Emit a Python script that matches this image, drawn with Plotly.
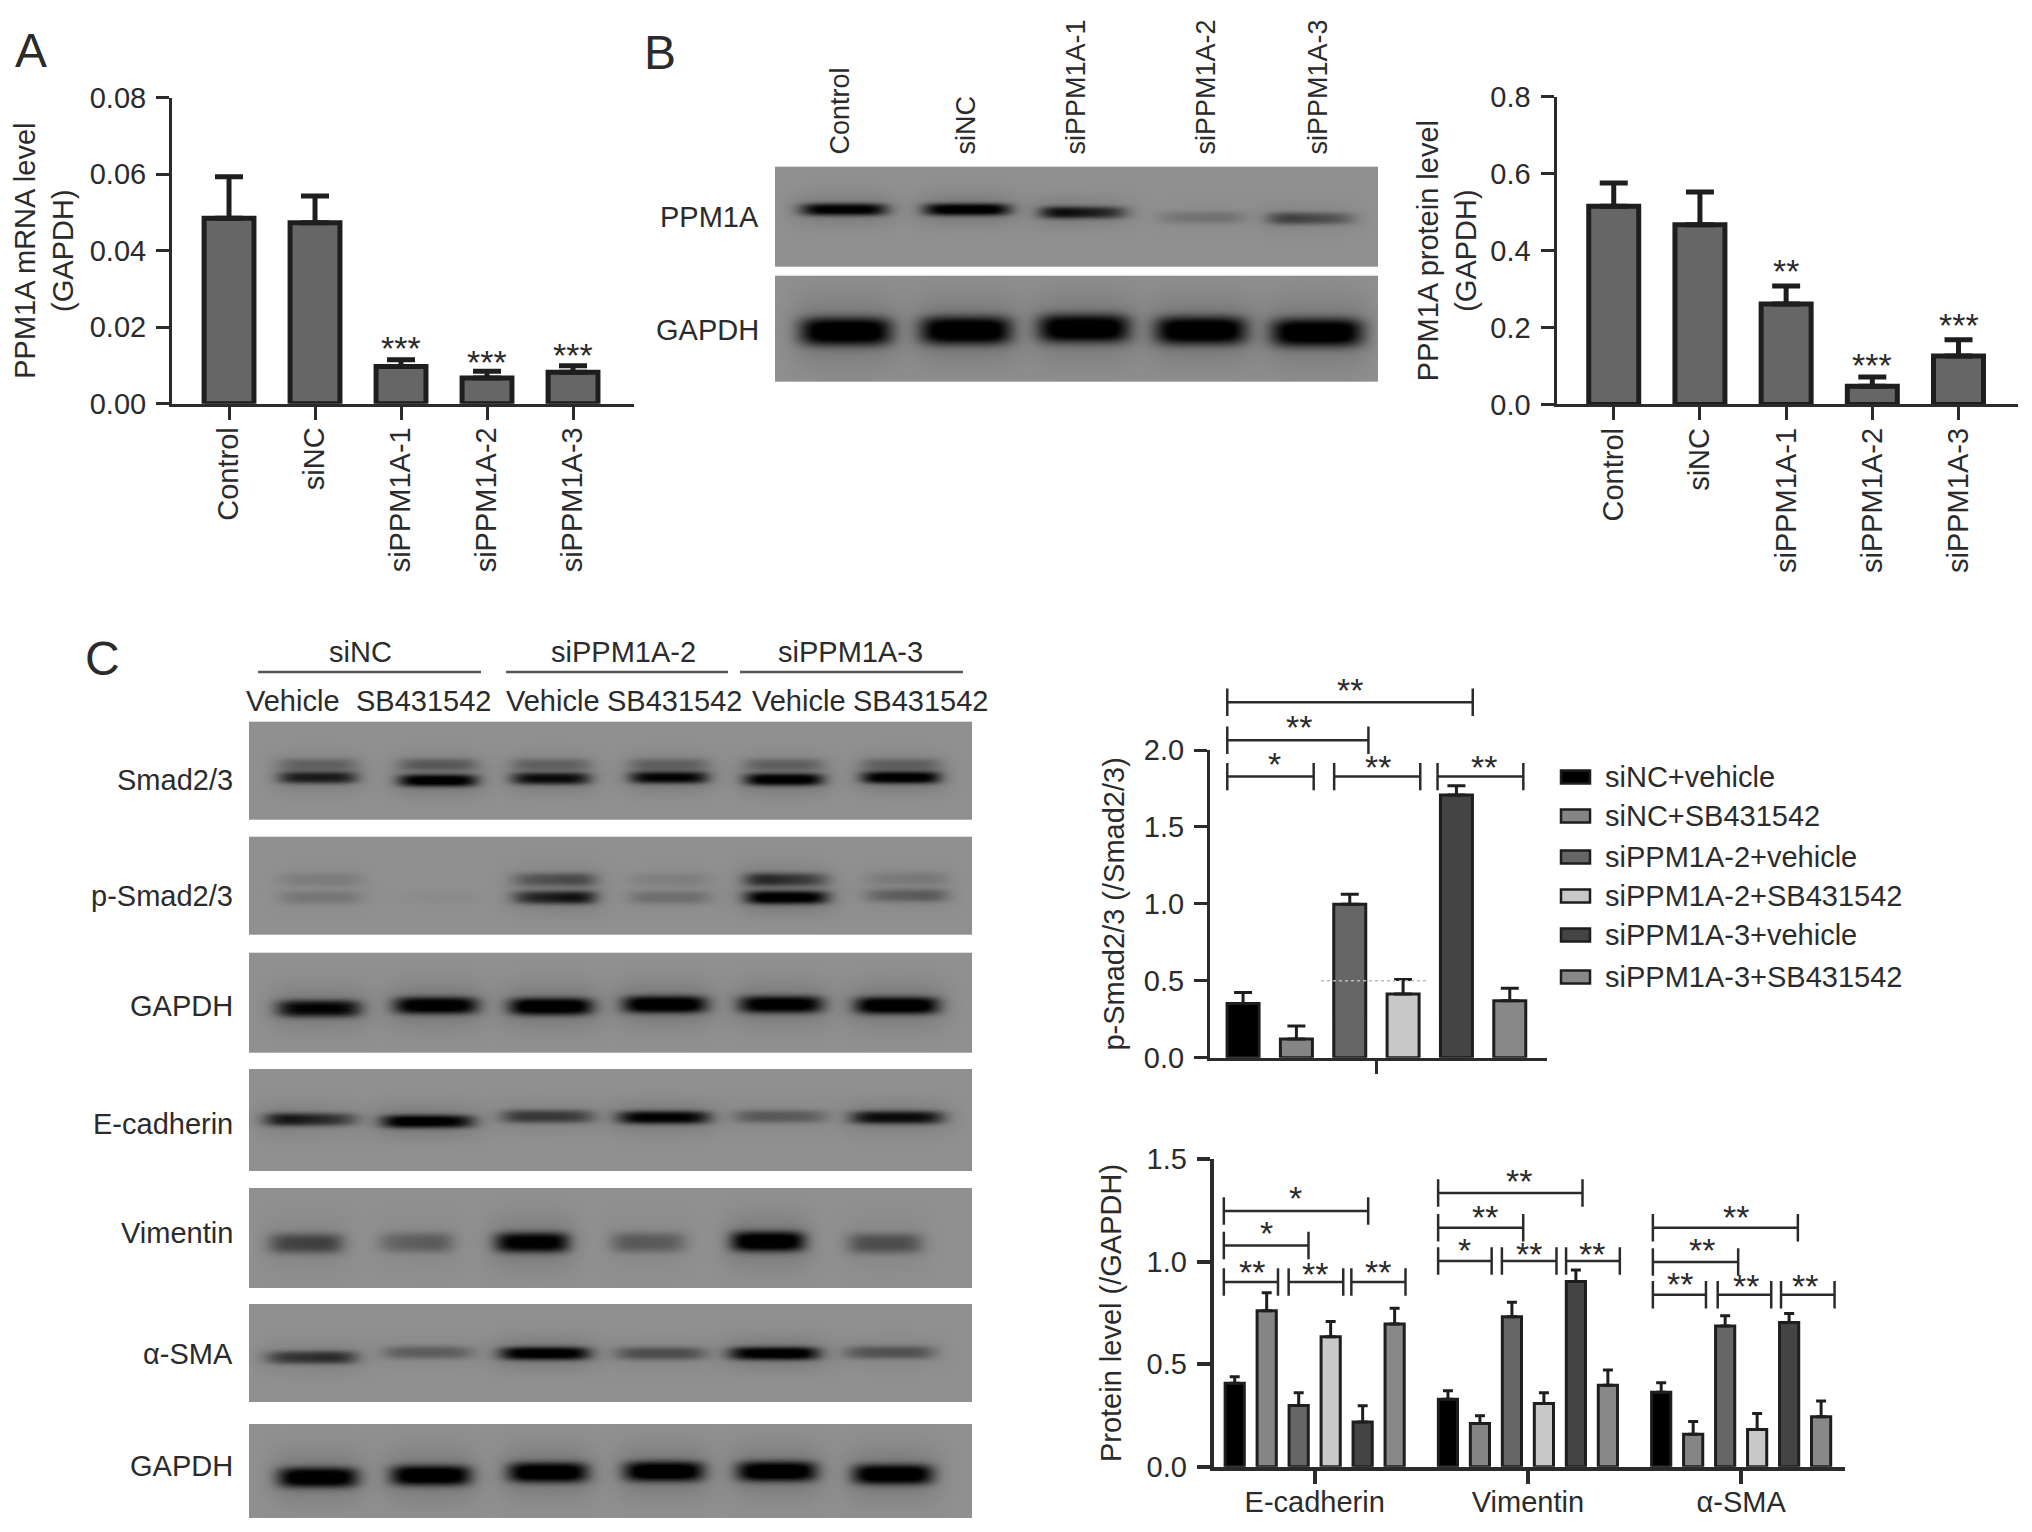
import numpy as np
import plotly.graph_objects as go

W, H = 2032, 1532
FONT = "Liberation Sans"
SIZE = 29
INK = "#2b2b2b"
EDGE = "#1e1e1e"
BLOT_BG = 144

## Panel A / B bar data
categories = ["Control", "siNC", "siPPM1A-1", "siPPM1A-2", "siPPM1A-3"]
mrna_values = [0.0485, 0.0473, 0.0097, 0.0067, 0.0082]
mrna_errors = [0.0108, 0.0070, 0.0018, 0.0018, 0.0017]
mrna_stars = [(2, 0.0155, "***"), (3, 0.0120, "***"), (4, 0.0137, "***")]
protein_values = [0.5155, 0.467, 0.261, 0.047, 0.126]
protein_errors = [0.060, 0.085, 0.047, 0.024, 0.042]
protein_stars = [(2, 0.356, "**"), (3, 0.114, "***"), (4, 0.217, "***")]

## Panel C bar data
conditions = ["siNC+vehicle", "siNC+SB431542", "siPPM1A-2+vehicle",
              "siPPM1A-2+SB431542", "siPPM1A-3+vehicle", "siPPM1A-3+SB431542"]
condition_colors = ["#000000", "#858585", "#666666", "#c8c8c8", "#444444", "#888888"]
psmad_values = [0.353, 0.121, 0.997, 0.414, 1.707, 0.370]
psmad_errors = [0.070, 0.085, 0.065, 0.095, 0.061, 0.081]
psmad_brackets = [(-0.466, -0.196, 1.827), (-0.132, 0.137, 1.827), (0.191, 0.459, 1.827),
                  (-0.466, -0.025, 2.063), (-0.466, 0.301, 2.310)]
psmad_stars = [(-0.320, 1.935, "*"), (0.005, 1.918, "**"), (0.335, 1.918, "**"),
               (-0.241, 2.173, "**"), (-0.083, 2.416, "**")]

markers = ["E-cadherin", "Vimentin", "α-SMA"]
level_values = [[0.407, 0.329, 0.363], [0.761, 0.211, 0.158], [0.299, 0.732, 0.687],
                [0.634, 0.309, 0.182], [0.218, 0.904, 0.704], [0.696, 0.397, 0.244]]
level_errors = [[0.032, 0.042, 0.047], [0.088, 0.038, 0.062], [0.062, 0.070, 0.050],
                [0.074, 0.052, 0.078], [0.080, 0.056, 0.044], [0.077, 0.075, 0.076]]
level_brackets = [(-0.426, -0.172, 0.901), (-0.122, 0.134, 0.901), (0.172, 0.426, 0.901),
                  (-0.426, -0.029, 1.079), (-0.426, 0.251, 1.248),
                  (0.579, 0.830, 1.004), (0.878, 1.134, 1.004), (1.179, 1.431, 1.004),
                  (0.579, 0.978, 1.166), (0.579, 1.256, 1.336),
                  (1.586, 1.835, 0.839), (1.890, 2.141, 0.839), (2.187, 2.438, 0.839),
                  (1.586, 1.986, 0.999), (1.586, 2.266, 1.166)]
level_stars = [(-0.294, 0.971, "**"), (0.002, 0.960, "**"), (0.299, 0.971, "**"),
               (-0.227, 1.158, "*"), (-0.091, 1.331, "*"),
               (0.701, 1.077, "*"), (1.005, 1.057, "**"), (1.299, 1.057, "**"),
               (0.801, 1.240, "**"), (0.957, 1.415, "**"),
               (1.711, 0.911, "**"), (2.022, 0.900, "**"), (2.301, 0.900, "**"),
               (1.818, 1.077, "**"), (1.974, 1.240, "**")]

## Western blot bands, read lane by lane (page x, page y, left and right darkness)
b_ppm1a_x = [843, 966, 1083, 1200, 1311]
b_ppm1a_y = [209, 209, 212, 217, 218]
b_ppm1a_left = [0.90, 0.95, 0.90, 0.15, 0.55]
b_ppm1a_right = [0.90, 0.95, 0.55, 0.20, 0.30]
b_gapdh_x = [845, 965, 1083, 1200, 1316]
b_gapdh_y = [331, 330, 328, 330, 332]
b_gapdh_dark = [1.0, 1.0, 1.0, 1.0, 1.0]

smad_x = [317, 437, 550, 668, 783, 900]
smad_y = [777, 780, 778, 777, 779, 777]
smad_dark = [0.70, 0.95, 0.80, 0.85, 0.95, 0.95]
smad_upper_y = [764, 764, 764, 764, 764, 764]
smad_upper_dark = [0.25, 0.30, 0.25, 0.25, 0.25, 0.25]
psmad_x = [320, 434, 553, 669, 786, 905]
psmad_y = [897, 897, 897, 897, 897, 895]
psmad_left = [0.15, 0.02, 0.55, 0.20, 1.00, 0.25]
psmad_right = [0.15, 0.04, 0.85, 0.20, 0.90, 0.35]
psmad_upper_y = [879, 879, 879, 879, 879, 878]
psmad_upper_left = [0.10, 0.00, 0.30, 0.08, 0.70, 0.10]
psmad_upper_right = [0.12, 0.00, 0.45, 0.10, 0.40, 0.14]
gapdh1_x = [318, 435, 550, 664, 780, 896]
gapdh1_y = [1008, 1005, 1006, 1004, 1004, 1005]
gapdh1_dark = [0.85, 0.95, 1.0, 1.0, 0.95, 1.0]
ecad_x = [311, 427, 547, 663, 780, 896]
ecad_y = [1119, 1121, 1116, 1117, 1116, 1117]
ecad_left = [0.85, 1.00, 0.55, 0.90, 0.35, 0.80]
ecad_right = [0.45, 0.85, 0.50, 0.85, 0.30, 0.80]
vim_x = [305, 415, 531, 648, 767, 884]
vim_y = [1243, 1242, 1242, 1242, 1241, 1243]
vim_left = [0.45, 0.25, 0.90, 0.35, 1.00, 0.40]
vim_right = [0.50, 0.35, 0.95, 0.30, 1.00, 0.40]
sma_x = [310, 427, 544, 660, 773, 888]
sma_y = [1357, 1352, 1353, 1353, 1353, 1352]
sma_left = [0.50, 0.30, 0.95, 0.40, 0.90, 0.35]
sma_right = [0.65, 0.30, 0.95, 0.40, 1.00, 0.40]
gapdh2_x = [317, 430, 547, 663, 776, 892]
gapdh2_y = [1477, 1475, 1472, 1471, 1471, 1474]
gapdh2_dark = [0.98, 1.0, 1.0, 1.0, 1.0, 1.0]

fig = go.Figure()
annotations = []
shapes = []


def dom_x(left, right):
    return [left / W, right / W]


def dom_y(top, bottom):
    return [1 - bottom / H, 1 - top / H]


def label(x, y, text, size=SIZE, xanchor="center", angle=0, yanchor="middle", xref="x", yref="y", yshift=0):
    annotations.append(dict(x=x, y=y, xref=xref, yref=yref, text=text, showarrow=False,
                            xanchor=xanchor, yanchor=yanchor, textangle=angle, yshift=yshift,
                            font=dict(family=FONT, size=size, color=INK)))


# the whole page as one axis pair, for blots and free text
fig.update_layout(
    xaxis=dict(domain=[0, 1], range=[0, W], visible=False, fixedrange=True, automargin=False),
    yaxis=dict(domain=[0, 1], range=[H, 0], visible=False, fixedrange=True, automargin=False),
)


def add_blot(left, right, top, bottom, bands):
    xs = np.arange(left + 1.5, right, 3.0)
    ys = np.arange(top + 1.0, bottom, 2.0)
    gx, gy = np.meshgrid(xs, ys)
    z = np.full(gx.shape, float(BLOT_BG))
    for lane_x, lane_y, half, thick, d_left, d_right in bands:
        dx = (gx - lane_x) / half
        dy = (gy - lane_y) / thick
        dark = np.clip(d_left + (d_right - d_left) * (dx + 1) / 2, min(d_left, d_right), max(d_left, d_right))
        core = np.exp(-np.abs(dx) ** 5) * np.exp(-np.abs(dy) ** 3)
        halo = 0.18 * np.exp(-np.abs(dx / 1.2) ** 4) * np.exp(-(dy / 2.6) ** 2)
        z *= 1 - np.clip(dark * (core + halo), 0, 1)
    fig.add_trace(go.Heatmap(x=xs, y=ys, z=np.round(z), zmin=0, zmax=255, zsmooth="best", showscale=False,
                             colorscale=[[0, "#000000"], [1, "#ffffff"]], hoverinfo="skip", xaxis="x", yaxis="y"))


def lane_bands(xs, ys, half, thick, left, right=None):
    right = left if right is None else right
    return [(x, y, half, thick, l, r) for x, y, l, r in zip(xs, ys, left, right)]


def add_chart(n, left, right, top, bottom, xrange, yrange, yticks, ytickfmt, tickvals, ticktext,
              title, standoff, xangle=None, linewidth=3, label_gap=0):
    ax = dict(domain=dom_x(left, right), range=xrange, anchor=f"y{n}", tickmode="array", automargin=False,
              tickvals=tickvals, ticktext=ticktext, ticks="outside", ticklen=13, tickwidth=linewidth,
              tickcolor=INK, showline=True, linewidth=linewidth, linecolor=INK, showgrid=False, zeroline=False,
              tickfont=dict(family=FONT, size=SIZE, color=INK), fixedrange=True, ticklabelstandoff=label_gap)
    if xangle is not None:
        ax["tickangle"] = xangle
    ay = dict(domain=dom_y(top, bottom), range=yrange, anchor=f"x{n}", tickmode="array", tickvals=yticks,
              ticktext=[ytickfmt.format(t) for t in yticks], ticks="outside", ticklen=13, tickwidth=linewidth,
              tickcolor=INK, showline=True, linewidth=linewidth, linecolor=INK, showgrid=False, zeroline=False,
              tickfont=dict(family=FONT, size=SIZE, color=INK), fixedrange=True, ticklabelstandoff=4, automargin=False,
              title=dict(text=title, standoff=standoff, font=dict(family=FONT, size=SIZE, color=INK)))
    fig.update_layout({f"xaxis{n}": ax, f"yaxis{n}": ay})


def add_bars(n, xs, values, errors, color, width, line_width, cap, name=None):
    fig.add_trace(go.Bar(
        x=xs, y=values, width=width, name=name, xaxis=f"x{n}", yaxis=f"y{n}",
        marker=dict(color=color, line=dict(color=EDGE, width=line_width)),
        error_y=dict(type="data", symmetric=False, array=errors, arrayminus=[0] * len(errors),
                     color=EDGE, thickness=line_width, width=cap),
        hoverinfo="skip",
    ))


def add_brackets(xref, yref, brackets, cap):
    xs, ys = [], []
    for x0, x1, y in brackets:
        xs += [x0, x1, None, x0, x0, None, x1, x1, None]
        ys += [y, y, None, y - cap, y + cap, None, y - cap, y + cap, None]
    fig.add_trace(go.Scatter(x=xs, y=ys, mode="lines", line=dict(color=INK, width=2.5), cliponaxis=False,
                             hoverinfo="skip", xaxis=xref, yaxis=yref))


def add_stars(xref, yref, stars):
    for x, y, text in stars:
        label(x, y, text, size=34, xref=xref, yref=yref, yshift=-4)


## Panel A
add_chart(2, 172, 634, 97.6, 403.7, [-0.663, 4.709], [0, 0.08], [0, 0.02, 0.04, 0.06, 0.08], "{:.2f}",
          list(range(5)), categories, "PPM1A mRNA level<br>(GAPDH)", 8, xangle=-90, label_gap=-4)
add_bars(2, list(range(5)), mrna_values, mrna_errors, "#666666", 0.58, 5, 14)
add_stars("x2", "y2", mrna_stars)

## Panel B blots and chart
add_blot(775, 1379, 166.7, 266.7, lane_bands(b_ppm1a_x, b_ppm1a_y, 43, 6, b_ppm1a_left, b_ppm1a_right))
add_blot(775, 1379, 275.7, 381, lane_bands(b_gapdh_x, b_gapdh_y, 46, 14, b_gapdh_dark))
add_chart(3, 1556.5, 2018, 96.7, 404.4, [-0.664, 4.69], [0, 0.8], [0, 0.2, 0.4, 0.6, 0.8], "{:.1f}",
          list(range(5)), categories, "PPM1A protein level<br>(GAPDH)", 6, xangle=-90, label_gap=-4)
add_bars(3, list(range(5)), protein_values, protein_errors, "#666666", 0.58, 5, 14)
add_stars("x3", "y3", protein_stars)

## Panel C blots
add_blot(249, 971, 721.7, 820, lane_bands(smad_x, smad_y, 39, 6, smad_dark)
         + lane_bands(smad_x, smad_upper_y, 39, 6, smad_upper_dark))
add_blot(249, 971, 836.7, 935.7, lane_bands(psmad_x, psmad_y, 41, 6.5, psmad_left, psmad_right)
         + lane_bands(psmad_x, psmad_upper_y, 41, 6.5, psmad_upper_left, psmad_upper_right))
add_blot(249, 971, 952.7, 1052, lane_bands(gapdh1_x, gapdh1_y, 42, 8.5, gapdh1_dark))
add_blot(249, 971, 1069, 1170.7, lane_bands(ecad_x, ecad_y, 46, 6.5, ecad_left, ecad_right))
add_blot(249, 971, 1188, 1288, lane_bands(vim_x, vim_y, 37, 10, vim_left, vim_right))
add_blot(249, 971, 1304, 1402.7, lane_bands(sma_x, sma_y, 45, 6.5, sma_left, sma_right))
add_blot(249, 971, 1424, 1519, lane_bands(gapdh2_x, gapdh2_y, 40, 10, gapdh2_dark))

## Panel C charts
group_x = [0]
add_chart(4, 1210, 1547, 750, 1057.7, [-0.52, 0.533], [0, 2.0], [0, 0.5, 1.0, 1.5, 2.0], "{:.1f}",
          group_x, [""], "p-Smad2/3 (/Smad2/3)", 11)
for i, name in enumerate(conditions):
    add_bars(4, [(i - 2.5) / 6], [psmad_values[i]], [psmad_errors[i]], condition_colors[i], 0.1, 3, 9, name)
# brackets run above 2.0, so they sit on a hidden taller y axis with the same scale
fig.update_layout(yaxis6=dict(domain=dom_y(640, 1057.7), range=[0, 2.715], visible=False, fixedrange=True,
                              anchor="x4", automargin=False))
add_brackets("x4", "y6", psmad_brackets, 0.089)
add_stars("x4", "y6", psmad_stars)
# faint stray dotted line in the original at 0.5
fig.add_trace(go.Scatter(x=[-0.173, 0.158], y=[0.5, 0.5], mode="lines", xaxis="x4", yaxis="y4", hoverinfo="skip",
                         line=dict(color="#bbbbbb", width=1.5, dash="dot")))

add_chart(5, 1213.7, 1845, 1159.3, 1466.7, [-0.4735, 2.487], [0, 1.5], [0, 0.5, 1.0, 1.5], "{:.1f}",
          [0, 1, 2], markers, "Protein level (/GAPDH)", 17, linewidth=4, label_gap=-7)
for i, name in enumerate(conditions):
    xs = [g + (i - 2.5) * 0.15 for g in range(3)]
    add_bars(5, xs, level_values[i], level_errors[i], condition_colors[i], 0.09, 3, 5, name)
add_brackets("x5", "y5", level_brackets, 0.067)
add_stars("x5", "y5", level_stars)

## Free text
label(31, 50, "A", size=48)
label(660, 52, "B", size=48)
label(102, 658, "C", size=48)

for x, name in zip([839, 965, 1075, 1205, 1317], categories):
    label(x, 157, name, size=27, angle=-90, yanchor="bottom")
label(761, 217, "PPM1A", xanchor="right")
label(761, 330, "GAPDH", xanchor="right")

for x, name in zip([360, 623, 850], ["siNC", "siPPM1A-2", "siPPM1A-3"]):
    label(x, 652, name)
for x0, x1 in [(258, 481), (506, 728), (740, 963)]:
    shapes.append(dict(type="line", xref="x", yref="y", x0=x0, x1=x1, y0=672, y1=672,
                       line=dict(color="#555555", width=2.5)))
for x, name in zip([293, 423, 553, 674, 799, 920], ["Vehicle", "SB431542"] * 3):
    label(x, 701, name)
for y, name in zip([780, 896, 1006, 1124, 1233, 1354, 1466],
                   ["Smad2/3", "p-Smad2/3", "GAPDH", "E-cadherin", "Vimentin", "α-SMA", "GAPDH"]):
    label(235, y, name, xanchor="right")

# legend drawn by hand, plotly's bar swatches are fixed at 12px
for y, name, color in zip([777, 816, 857, 896, 935, 977], conditions, condition_colors):
    shapes.append(dict(type="rect", xref="x", yref="y", x0=1561, x1=1590, y0=y - 6.5, y1=y + 6.5,
                       fillcolor=color, line=dict(color=EDGE, width=2.5)))
    label(1603, y, name, xanchor="left")

fig.update_layout(
    width=W, height=H, margin=dict(l=0, r=0, t=0, b=0, autoexpand=False), autosize=False, template="none",
    paper_bgcolor="white", plot_bgcolor="rgba(0,0,0,0)", barmode="overlay", showlegend=False,
    annotations=annotations, shapes=shapes, font=dict(family=FONT, color=INK),
)

fig.write_html("out.html", config={"displayModeBar": False},
               post_script="document.body.style.margin='0';document.body.style.overflow='hidden';")
